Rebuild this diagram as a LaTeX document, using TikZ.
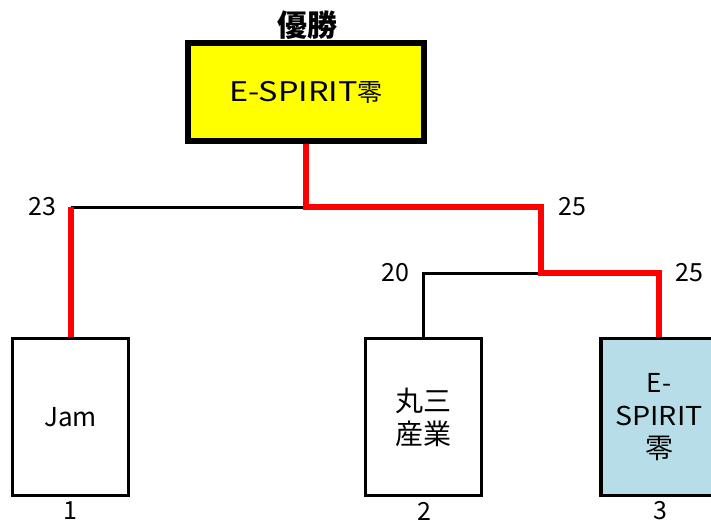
\documentclass[tikz,border=0pt]{standalone}
\usepackage{fontspec}
\usepackage{graphicx}
\setmainfont{Noto Sans CJK JP}
\definecolor{winfill}{RGB}{255,255,0}
\definecolor{boxblue}{RGB}{183,222,232}
\definecolor{winred}{RGB}{255,0,0}
\newcommand{\wideTxt}[2]{\scalebox{#1}[1]{#2}}
\begin{document}
\begin{tikzpicture}[x=1pt,y=-1pt,
  lbl/.style={font=\fontsize{25}{27}\selectfont, inner sep=0pt},
  team/.style={draw=black, line width=3.5pt, minimum width=116pt, minimum height=157pt, align=center, font=\fontsize{26}{33}\selectfont, inner sep=0pt},
  champ/.style={draw=black, fill=winfill, line width=6pt, minimum width=236pt, minimum height=98pt, font=\fontsize{27}{30}\selectfont, inner sep=0pt},
  lose/.style={draw=black, line width=3pt},
  winpath/.style={draw=winred, line width=6pt}]
\useasboundingbox (0,0) rectangle (711,524);
\clip (0,0) rectangle (711,524);
\node[champ] (winner) at (306,92) {\wideTxt{1.2}{E-SPIRIT}{\fontsize{25}{26}\selectfont 零}};
\node[font=\bfseries\fontsize{30}{32}\selectfont, inner sep=0pt] (title) at (307,25) {優勝};
\node[team] (jam) at (70.5,417) {Jam};
\node[team] (maru) at (423.5,417) {{\fontsize{28}{33}\selectfont 丸三}\\{\fontsize{28}{33}\selectfont 産業}};
\node[team, fill=boxblue] (esp) at (659,417) {E-\\\wideTxt{1.1}{SPIRIT}\\{\fontsize{28}{33}\selectfont 零}};
\coordinate (top) at (306,207);
\coordinate (rtop) at (541,207);
\coordinate (ltop) at (70.5,207);
\coordinate (rmid) at (541,273);
\coordinate (rl) at (423.5,273);
\coordinate (rr) at (659,273);
\draw[lose] (top) -- (ltop);
\draw[lose] (rmid) -- (rl) -- (maru.north);
\draw[winpath] (ltop) -- (jam.north);
\draw[winpath] (winner.south) -- (top) -- (rtop) -- (rmid) -- (rr) -- (esp.north);
\node[lbl] (s1) at (42,207) {23};
\node[lbl] (s2) at (572,207) {25};
\node[lbl] (s3) at (395,273) {20};
\node[lbl] (s4) at (689,273) {25};
\node[lbl] (n1) at (70,511) {1};
\node[lbl] (n2) at (424,511) {2};
\node[lbl] (n3) at (660,511) {3};
\end{tikzpicture}
\end{document}
